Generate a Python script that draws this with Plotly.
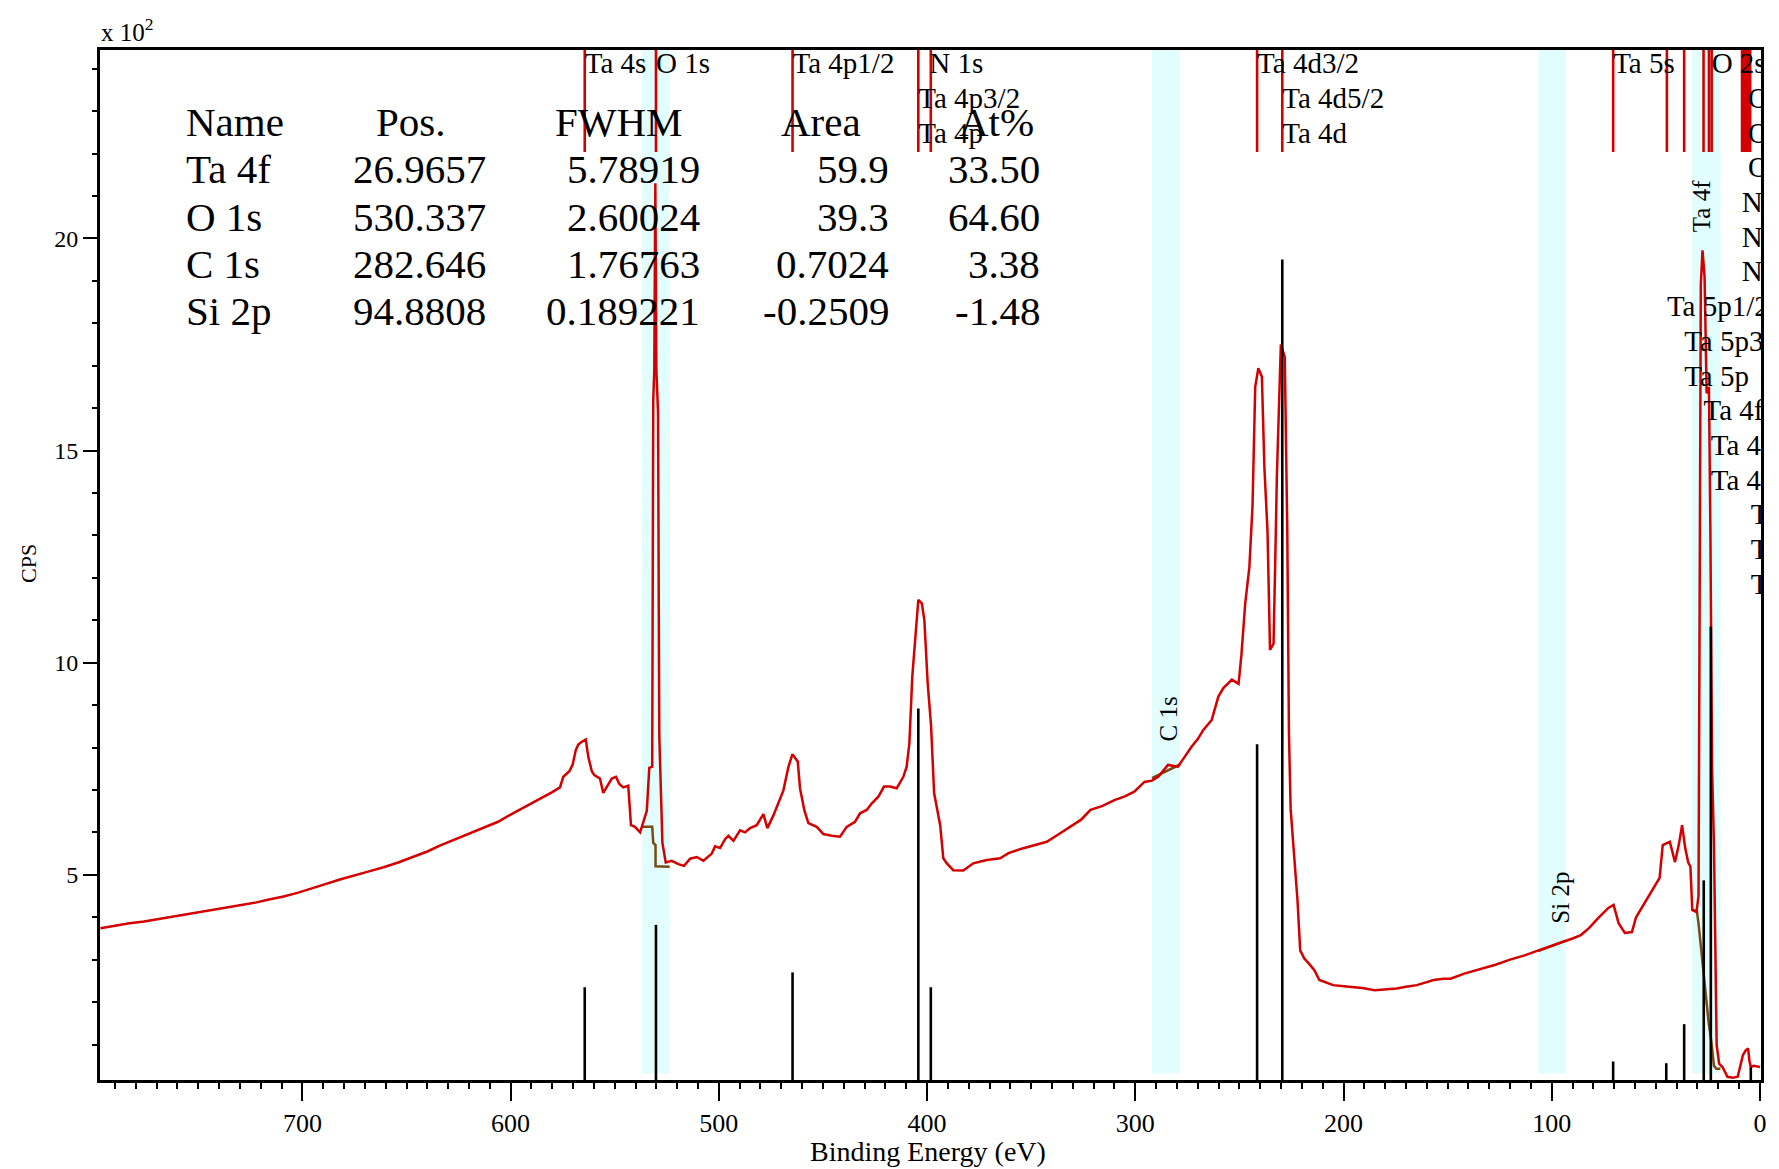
import plotly.graph_objects as go

# ---------------- data ----------------
# survey spectrum: binding energy (eV) and intensity (CPS x 100)
be = [797.0, 790.0, 783.0, 776.0, 770.0, 763.0, 756.0, 749.0, 742.0, 736.0, 729.0, 722.0, 716.0, 709.0,
      702.0, 695.0, 689.0, 682.0, 675.0, 668.0, 661.0, 654.0, 647.0, 640.0, 634.0, 627.0, 620.0, 613.0,
      606.0, 600.0, 595.0, 590.0, 585.0, 580.0, 576.3, 574.7, 571.8, 570.2, 568.7, 567.5, 565.9, 563.9,
      562.7, 561.0, 559.8, 557.1, 555.5, 553.9, 551.4, 549.4, 547.8, 545.9, 543.5, 542.2, 540.3, 537.8,
      536.3, 534.6, 533.4, 532.0, 531.5, 531.0, 530.5, 530.0, 529.2, 528.6, 527.1, 525.5, 522.6, 519.4,
      516.7, 513.8, 510.6, 507.4, 503.4, 501.8, 499.4, 497.0, 495.4, 493.0, 489.8, 487.4, 485.0, 481.8,
      478.6, 476.7, 473.8, 471.4, 469.0, 466.6, 464.7, 462.1, 461.0, 458.9, 457.0, 453.0, 449.8, 445.8,
      441.8, 438.6, 434.6, 432.2, 429.0, 426.6, 423.4, 420.7, 417.8, 414.6, 411.4, 409.8, 408.5, 407.1,
      405.6, 404.2, 402.5, 401.3, 399.7, 398.1, 396.6, 395.0, 393.7, 392.2, 390.5, 387.4, 382.6, 377.8,
      371.3, 364.9, 360.9, 355.0, 348.0, 342.5, 337.0, 331.0, 326.0, 321.5, 316.0, 310.0, 305.0, 300.5,
      295.6, 292.0, 289.0, 284.3, 279.5, 276.3, 273.0, 270.0, 267.4, 263.3, 260.1, 257.7, 253.6, 250.4,
      249.0, 247.2, 245.2, 243.7, 242.4, 240.9, 239.2, 238.0, 236.5, 235.3, 233.6, 232.8, 232.0, 230.1,
      228.2, 227.0, 226.2, 225.4, 223.4, 222.1, 220.8, 218.9, 216.5, 214.0, 211.6, 208.0, 205.0, 201.0,
      197.0, 191.0, 185.0, 180.0, 174.5, 170.0, 164.8, 160.0, 156.7, 152.0, 148.6, 142.0, 136.0, 131.0,
      127.0, 120.0, 113.0, 105.7, 100.0, 94.0, 90.0, 86.0, 82.0, 77.7, 75.0, 72.8, 70.3, 67.9,
      64.9, 61.5, 59.5, 56.6, 53.0, 49.7, 48.2, 46.7, 45.0, 43.3, 40.8, 39.0, 37.4, 35.9,
      34.5, 33.4, 32.5, 30.5, 29.5, 29.0, 28.4, 27.6, 26.6, 25.6, 24.5, 23.8, 23.0, 22.1,
      20.8, 19.6, 18.0, 15.6, 13.0, 10.7, 9.2, 8.2, 7.0, 5.7, 5.0, 4.4, 3.0, 1.5, 0.0]
cps = [3.74, 3.80, 3.86, 3.90, 3.95, 4.00, 4.06, 4.12, 4.17, 4.22, 4.28, 4.35, 4.42, 4.49,
       4.58, 4.68, 4.78, 4.89, 4.98, 5.08, 5.18, 5.29, 5.42, 5.55, 5.69, 5.83, 5.96, 6.10,
       6.25, 6.42, 6.55, 6.68, 6.82, 6.95, 7.06, 7.31, 7.44, 7.60, 7.94, 8.07, 8.13, 8.19,
       7.78, 7.44, 7.35, 7.27, 6.93, 7.06, 7.27, 7.31, 7.14, 7.06, 7.10, 6.17, 6.13, 6.00,
       6.22, 6.51, 7.52, 7.55, 16.20, 16.90, 21.30, 16.90, 15.90, 8.28, 5.75, 5.29, 5.33, 5.25,
       5.21, 5.38, 5.42, 5.33, 5.50, 5.67, 5.63, 5.84, 5.92, 5.80, 6.05, 6.00, 6.10, 6.17,
       6.43, 6.10, 6.40, 6.70, 6.99, 7.54, 7.84, 7.67, 7.03, 6.51, 6.22, 6.13, 5.96, 5.92,
       5.90, 6.13, 6.25, 6.45, 6.53, 6.68, 6.84, 7.08, 7.08, 7.04, 7.31, 7.55, 8.10, 9.67,
       10.65, 11.48, 11.40, 11.00, 9.51, 8.53, 6.92, 6.45, 6.17, 5.39, 5.27, 5.11, 5.10, 5.27,
       5.35, 5.39, 5.51, 5.61, 5.70, 5.78, 5.95, 6.13, 6.30, 6.53, 6.62, 6.76, 6.85, 6.96,
       7.19, 7.22, 7.31, 7.59, 7.55, 7.78, 8.02, 8.20, 8.41, 8.65, 9.20, 9.40, 9.60, 9.50,
       10.20, 11.40, 12.26, 13.70, 16.50, 16.94, 16.74, 14.60, 13.10, 10.30, 10.45, 12.35, 14.40, 17.50,
       17.20, 13.10, 8.33, 6.56, 5.19, 4.40, 3.22, 3.03, 2.90, 2.75, 2.52, 2.45, 2.40, 2.38,
       2.36, 2.33, 2.28, 2.30, 2.32, 2.36, 2.40, 2.47, 2.52, 2.55, 2.55, 2.67, 2.75, 2.82,
       2.88, 3.00, 3.10, 3.23, 3.33, 3.42, 3.50, 3.58, 3.75, 3.98, 4.10, 4.22, 4.29, 3.86,
       3.63, 3.65, 4.00, 4.24, 4.52, 4.80, 4.93, 5.70, 5.75, 5.78, 5.30, 5.70, 6.17, 5.63,
       5.30, 5.19, 4.17, 4.12, 4.50, 12.00, 18.90, 19.72, 19.10, 16.35, 16.50, 13.08, 7.50, 5.75,
       0.99, 0.55, 0.47, 0.24, 0.22, 0.24, 0.55, 0.75, 0.85, 0.91, 0.60, 0.47, 0.50, 0.48, 0.47]

# library peak markers (black bars): energy and height
mark_be = [564.4, 530.2, 464.6, 404.2, 398.2, 241.5, 229.4, 70.5, 45.0, 36.4, 27.0, 23.6, 4.4]
mark_h = [2.35, 3.82, 2.70, 8.92, 2.35, 8.08, 19.50, 0.60, 0.56, 1.48, 4.87, 10.85, 0.46]

# label marker lines at top (red)
lab_line_be = [564.4, 530.2, 464.6, 404.2, 398.2, 241.5, 229.4, 70.5, 44.7, 36.4, 27.1, 24.5, 23.2,
               8.6, 7.8, 7.0, 6.2, 5.4, 4.7]

# peak labels: text, anchor energy, row
label_text = ["Ta 4s", "O 1s", "Ta 4p1/2", "N 1s", "Ta 4d3/2", "Ta 5s", "O 2s",
              "Ta 4p3/2", "Ta 4d5/2", "O 2p1/2",
              "Ta 4p", "Ta 4d", "O 2p3/2",
              "O 2p",
              "N 2s", "N 2p1/2", "N 2p",
              "Ta 5p1/2", "Ta 5p3/2", "Ta 5p",
              "Ta 4f5/2", "Ta 4f7/2", "Ta 4f",
              "Ta 5d3/2", "Ta 5d5/2", "Ta 5d"]
label_be = [564.4, 530.2, 464.6, 398.9, 241.5, 70.5, 23.2,
            404.2, 229.4, 5.7,
            404.2, 229.4, 5.7,
            5.7,
            8.7, 8.7, 8.7,
            44.7, 36.4, 36.4,
            27.1, 23.6, 23.6,
            4.4, 4.4, 4.4]
label_row = [0, 0, 0, 0, 0, 0, 0,
             1, 1, 1,
             2, 2, 2,
             3,
             4, 5, 6,
             7, 8, 9,
             10, 11, 12,
             13, 14, 15]

# quantification regions
region_name = ["O 1s", "C 1s", "Si 2p", "Ta 4f"]
region_hi = [536.8, 292.0, 106.4, 32.5]
region_lo = [523.6, 278.5, 93.2, 19.0]
region_label_be = [None, 283.9, 95.6, 28.3]
region_label_y = [None, 8.68, 4.46, 20.76]

# region backgrounds (brown)
bg_be = [[536.8, 532.0, 531.5, 530.4, 530.4, 523.6],
         [292.0, 278.5],
         [106.4, 93.2],
         [32.5, 30.3, 29.5, 27.0, 26.0, 24.6, 23.3, 22.1, 21.0, 19.0]]
bg_y = [[6.13, 6.13, 5.75, 5.70, 5.20, 5.19],
        [7.28, 7.60],
        [3.20, 3.45],
        [4.17, 4.15, 3.85, 2.60, 2.05, 1.50, 1.05, 0.50, 0.43, 0.43]]

# quantification table
tab_head = ["Name", "Pos.", "FWHM", "Area", "At%"]
tab_name = ["Ta 4f", "O 1s", "C 1s", "Si 2p"]
tab_pos = ["26.9657", "530.337", "282.646", "94.8808"]
tab_fwhm = ["5.78919", "2.60024", "1.76763", "0.189221"]
tab_area = ["59.9", "39.3", "0.7024", "-0.2509"]
tab_at = ["33.50", "64.60", "3.38", "-1.48"]

x_ticks = [0, 100, 200, 300, 400, 500, 600, 700]
y_ticks = [5, 10, 15, 20]

# ---------------- layout constants ----------------
OFF = 8                      # page body margin
PL, PT, PR, PB = 100, 50, 1761, 1080   # plot area in page pixels
W, H = 1779 - OFF, 1169 - OFF
L, T = PL - OFF, PT - OFF
R, B = W - (PR - OFF), H - (PB - OFF)
PW, PH = PR - PL, PB - PT
X_RANGE = [797.2, -0.5]
Y_RANGE = [0.164, 24.44]
SERIF = "Liberation Serif"
RED = "#d40000"
CYAN = "#e2fdfd"
BROWN = "#7a4a10"


def pxx(fx):
    return (fx - PL) / PW


def pxy(fy):
    return (PB - fy) / PH


def data_y(fy):
    # page pixel row -> data value
    return Y_RANGE[1] - (fy - PT) / PH * (Y_RANGE[1] - Y_RANGE[0])


fig = go.Figure()

# region bands
for hi, lo in zip(region_hi, region_lo):
    fig.add_shape(type="rect", xref="x", yref="y", x0=hi, x1=lo, y0=0.32, y1=Y_RANGE[1],
                  fillcolor=CYAN, line_width=0, layer="below")

# backgrounds
bx, byy = [], []
for xs, ys in zip(bg_be, bg_y):
    bx += xs + [None]
    byy += ys + [None]
fig.add_trace(go.Scatter(x=bx, y=byy, mode="lines", line=dict(color=BROWN, width=2.5),
                         hoverinfo="skip", showlegend=False))

# spectrum
fig.add_trace(go.Scatter(x=be, y=cps, mode="lines", line=dict(color=RED, width=2.5),
                         hoverinfo="skip", showlegend=False))

# black peak markers
mx, my = [], []
for e, h in zip(mark_be, mark_h):
    mx += [e, e, None]
    my += [Y_RANGE[0], h, None]
fig.add_trace(go.Scatter(x=mx, y=my, mode="lines", line=dict(color="black", width=2.6),
                         hoverinfo="skip", showlegend=False))

# red label lines from the top
LINE_BOTTOM = data_y(152)
rx, ry = [], []
for e in lab_line_be:
    rx += [e, e, None]
    ry += [LINE_BOTTOM, Y_RANGE[1] + 0.2, None]
fig.add_trace(go.Scatter(x=rx, y=ry, mode="lines", line=dict(color=RED, width=2.6),
                         hoverinfo="skip", showlegend=False))

# peak labels (clipped to plot area)
ROW0 = 66.0
ROW_STEP = 34.7
fig.add_trace(go.Scatter(x=label_be, y=[data_y(ROW0 + r * ROW_STEP) for r in label_row],
                         mode="text", text=label_text, textposition="middle right",
                         textfont=dict(family=SERIF, size=29, color="black"),
                         cliponaxis=True, hoverinfo="skip", showlegend=False))

annotations = []
# region labels (rotated)
for name, xe, ye in zip(region_name, region_label_be, region_label_y):
    if xe is None:
        continue
    annotations.append(dict(x=xe, y=ye, xref="x", yref="y", text=name, showarrow=False,
                            textangle=-90, font=dict(family=SERIF, size=25, color="black")))

# table
TFONT = dict(family=SERIF, size=41, color="black")
head_x = [184, 374, 553, 779, 957]
for txt, hx in zip(tab_head, head_x):
    annotations.append(dict(x=pxx(hx), y=pxy(122.5), xref="paper", yref="paper", text=txt,
                            showarrow=False, xanchor="left", yanchor="middle", font=TFONT))
row_y = [169.0, 216.5, 264.0, 311.5]
col_right = [488, 702, 891, 1042]
for i, fy in enumerate(row_y):
    annotations.append(dict(x=pxx(184), y=pxy(fy), xref="paper", yref="paper", text=tab_name[i],
                            showarrow=False, xanchor="left", yanchor="middle", font=TFONT))
    for col, cx in zip([tab_pos, tab_fwhm, tab_area, tab_at], col_right):
        annotations.append(dict(x=pxx(cx), y=pxy(fy), xref="paper", yref="paper", text=col[i],
                                showarrow=False, xanchor="right", yanchor="middle", font=TFONT))

# multiplier and axis titles
annotations.append(dict(x=pxx(99), y=pxy(30), xref="paper", yref="paper", text="x 10<sup>2</sup>",
                        showarrow=False, xanchor="left", yanchor="middle",
                        font=dict(family=SERIF, size=25, color="black")))
annotations.append(dict(x=pxx(928), y=pxy(1151), xref="paper", yref="paper",
                        text="Binding Energy (eV)", showarrow=False, xanchor="center", yanchor="middle",
                        font=dict(family=SERIF, size=28, color="black")))
annotations.append(dict(x=pxx(28), y=pxy(564), xref="paper", yref="paper", text="CPS",
                        showarrow=False, textangle=-90, xanchor="center", yanchor="middle",
                        font=dict(family=SERIF, size=22, color="black")))

fig.update_layout(
    width=W, height=H,
    margin=dict(l=L, r=R, t=T, b=B, pad=0),
    paper_bgcolor="white", plot_bgcolor="white",
    showlegend=False,
    annotations=annotations,
    xaxis=dict(range=X_RANGE, showline=True, linewidth=3, linecolor="black", mirror=True,
               showgrid=False, zeroline=False, ticks="outside", ticklen=18, tickwidth=2,
               tickcolor="black", tickvals=x_ticks, ticktext=[str(v) for v in x_ticks],
               tickfont=dict(family=SERIF, size=26, color="black"), ticklabelstandoff=0,
               minor=dict(dtick=10, tick0=0, ticks="outside", ticklen=6, tickwidth=2,
                          tickcolor="black", showgrid=False)),
    yaxis=dict(range=Y_RANGE, showline=True, linewidth=3, linecolor="black", mirror=True,
               showgrid=False, zeroline=False, ticks="outside", ticklen=14, tickwidth=2,
               tickcolor="black", tickvals=y_ticks, ticktext=[str(v) for v in y_ticks],
               tickfont=dict(family=SERIF, size=24, color="black"),
               minor=dict(dtick=1, tick0=0, ticks="outside", ticklen=5, tickwidth=2,
                          tickcolor="black", showgrid=False)),
)

fig.write_html("out.html")
